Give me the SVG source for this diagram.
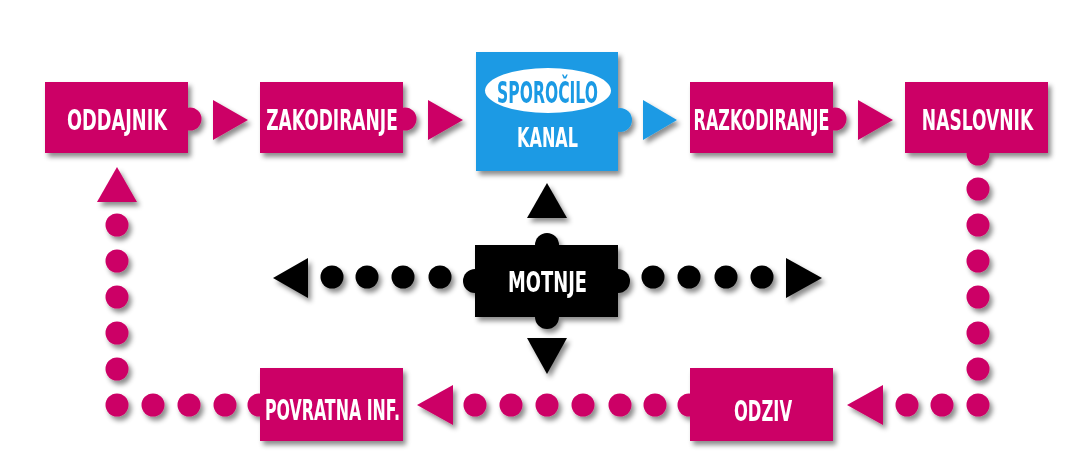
<svg xmlns="http://www.w3.org/2000/svg" width="1067" height="476" viewBox="0 0 1067 476">
  <style>
    .m { fill: #cc0066; }
    .b { fill: #1b9ae4; }
    .k { fill: #000000; }
    .t { font-family: "Liberation Sans Narrow", "DejaVu Sans Condensed", "Liberation Sans", sans-serif; font-weight: bold; fill: #ffffff; text-anchor: middle; font-size: 28px; }
    .tb { fill: #1b9ae4; }
    .sh { filter: url(#shadow); }
  </style>
  <defs>
    <filter id="shadow" x="-20%" y="-20%" width="150%" height="160%">
      <feDropShadow dx="3" dy="4" stdDeviation="2.5" flood-color="#000000" flood-opacity="0.45"/>
    </filter>
    <circle id="dot" r="11.5"/>
  </defs>
  <rect width="1067" height="476" fill="#ffffff"/>

  <g id="connectors">
    <polygon class="m sh" points="213,100 248,120 213,140"/>
    <polygon class="m sh" points="428,100 463,120 428,140"/>
    <polygon class="b sh" points="643,100 677,120 643,140"/>
    <polygon class="m sh" points="858,100 893,120 858,140"/>

    <g class="m sh">
      <use href="#dot" x="978" y="189"/>
      <use href="#dot" x="978" y="225"/>
      <use href="#dot" x="978" y="261"/>
      <use href="#dot" x="978" y="297"/>
      <use href="#dot" x="978" y="333"/>
      <use href="#dot" x="978" y="369"/>
      <use href="#dot" x="978" y="405"/>
      <use href="#dot" x="942" y="405"/>
      <use href="#dot" x="907" y="405"/>
      <polygon points="847,405 883,385 883,425"/>
      <use href="#dot" x="655" y="405"/>
      <use href="#dot" x="620" y="405"/>
      <use href="#dot" x="583" y="405"/>
      <use href="#dot" x="547" y="405"/>
      <use href="#dot" x="511" y="405"/>
      <use href="#dot" x="475" y="405"/>
      <polygon points="417,405 453,385 453,425"/>
      <use href="#dot" x="225" y="405"/>
      <use href="#dot" x="189" y="405"/>
      <use href="#dot" x="153" y="405"/>
      <use href="#dot" x="117" y="405"/>
      <use href="#dot" x="117" y="369"/>
      <use href="#dot" x="117" y="333"/>
      <use href="#dot" x="117" y="297"/>
      <use href="#dot" x="117" y="261"/>
      <use href="#dot" x="117" y="225"/>
      <polygon points="117,167 137,202 97,202"/>
    </g>

    <g class="k sh">
      <polygon points="547,183 567,218 527,218"/>
      <polygon points="527,338 567,338 547,374"/>
      <polygon points="273,278 308,258 308,298"/>
      <use href="#dot" x="332" y="277"/>
      <use href="#dot" x="367" y="277"/>
      <use href="#dot" x="403" y="277"/>
      <use href="#dot" x="440" y="277"/>
      <use href="#dot" x="653" y="277"/>
      <use href="#dot" x="689" y="277"/>
      <use href="#dot" x="726" y="277"/>
      <use href="#dot" x="762" y="277"/>
      <polygon points="822,278 786,258 786,298"/>
    </g>
  </g>

  <g id="oddajnik">
    <g class="m sh">
      <circle cx="190" cy="119" r="11.5"/>
      <rect x="45" y="82" width="143" height="71"/>
    </g>
    <text class="t" transform="translate(117,130) scale(0.7,1)" textLength="143" lengthAdjust="spacingAndGlyphs">ODDAJNIK</text>
  </g>

  <g id="zakodiranje">
    <g class="m sh">
      <circle cx="405" cy="119" r="11.5"/>
      <rect x="260" y="82" width="143" height="71"/>
    </g>
    <text class="t" transform="translate(332,130) scale(0.7,1)" textLength="188" lengthAdjust="spacingAndGlyphs">ZAKODIRANJE</text>
  </g>

  <g id="kanal">
    <g class="b sh">
      <circle cx="620" cy="120" r="12"/>
      <rect x="476" y="52" width="142" height="119"/>
    </g>
    <ellipse cx="548" cy="90.5" rx="63" ry="22.5" fill="#ffffff"/>
    <text class="t tb" style="font-size:31px" transform="translate(547.5,103) scale(0.7,1)" textLength="144" lengthAdjust="spacingAndGlyphs">SPOROČILO</text>
    <text class="t" style="font-size:26px" transform="translate(547.5,147) scale(0.7,1)" textLength="87" lengthAdjust="spacingAndGlyphs">KANAL</text>
  </g>

  <g id="razkodiranje">
    <g class="m sh">
      <circle cx="835" cy="119" r="11.5"/>
      <rect x="690" y="82" width="143" height="71"/>
    </g>
    <text class="t" transform="translate(761.5,130) scale(0.7,1)" textLength="194" lengthAdjust="spacingAndGlyphs">RAZKODIRANJE</text>
  </g>

  <g id="naslovnik">
    <g class="m sh">
      <circle cx="978" cy="154" r="11.5"/>
      <rect x="905" y="82" width="143" height="71"/>
    </g>
    <text class="t" transform="translate(977.5,130) scale(0.7,1)" textLength="159" lengthAdjust="spacingAndGlyphs">NASLOVNIK</text>
  </g>

  <g id="motnje">
    <g class="k sh">
      <circle cx="475" cy="281" r="12"/>
      <circle cx="618" cy="281" r="12"/>
      <circle cx="547" cy="245" r="12"/>
      <circle cx="547" cy="317" r="12"/>
      <rect x="475" y="245" width="143" height="72"/>
    </g>
    <text class="t" transform="translate(547.5,292) scale(0.7,1)" textLength="113" lengthAdjust="spacingAndGlyphs">MOTNJE</text>
  </g>

  <g id="odziv">
    <g class="m sh">
      <circle cx="689" cy="405" r="11.5"/>
      <rect x="690" y="368" width="143" height="73"/>
    </g>
    <text class="t" style="font-size:29px" transform="translate(763,421) scale(0.7,1)" textLength="83" lengthAdjust="spacingAndGlyphs">ODZIV</text>
  </g>

  <g id="povratna">
    <g class="m sh">
      <circle cx="259" cy="405" r="11.5"/>
      <rect x="260" y="368" width="143" height="73"/>
    </g>
    <text class="t" style="font-size:29px" transform="translate(332.5,420) scale(0.7,1)" textLength="193" lengthAdjust="spacingAndGlyphs">POVRATNA INF.</text>
  </g>
</svg>
